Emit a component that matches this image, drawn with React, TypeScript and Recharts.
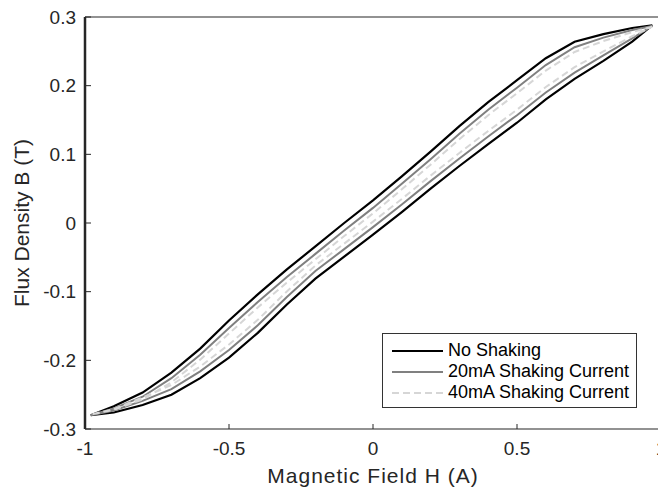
import { LineChart, Line, XAxis, YAxis, Legend, ReferenceLine } from 'recharts';

// field values along the descending branch (upper curve), ascending branch is the reverse
const hDown = [0.97, 0.9, 0.8, 0.7, 0.6, 0.5, 0.4, 0.3, 0.2, 0.1, 0, -0.1, -0.2, -0.3, -0.4, -0.5, -0.6, -0.7, -0.8, -0.9, -0.98];
const hUp = [...hDown].reverse();

const noShakeUpper = [0.288, 0.284, 0.275, 0.264, 0.24, 0.208, 0.176, 0.141, 0.104, 0.068, 0.033, 0.0, -0.034, -0.068, -0.104, -0.142, -0.183, -0.218, -0.247, -0.267, -0.28];
const noShakeLower = [-0.28, -0.276, -0.265, -0.25, -0.226, -0.196, -0.16, -0.119, -0.081, -0.049, -0.017, 0.016, 0.05, 0.083, 0.115, 0.146, 0.18, 0.21, 0.236, 0.264, 0.288];

const shake20Upper = [0.287, 0.281, 0.27, 0.256, 0.23, 0.197, 0.165, 0.13, 0.093, 0.057, 0.022, -0.011, -0.045, -0.079, -0.115, -0.153, -0.192, -0.226, -0.253, -0.27, -0.28];
const shake20Lower = [-0.28, -0.273, -0.259, -0.242, -0.216, -0.185, -0.149, -0.108, -0.07, -0.038, -0.006, 0.027, 0.061, 0.094, 0.126, 0.157, 0.19, 0.219, 0.244, 0.269, 0.287];

const shake40Upper = [0.286, 0.278, 0.265, 0.249, 0.222, 0.189, 0.157, 0.122, 0.085, 0.049, 0.014, -0.019, -0.053, -0.087, -0.123, -0.161, -0.199, -0.232, -0.257, -0.272, -0.279];
const shake40Lower = [-0.279, -0.271, -0.254, -0.236, -0.209, -0.177, -0.141, -0.1, -0.062, -0.03, 0.002, 0.035, 0.069, 0.102, 0.134, 0.165, 0.198, 0.227, 0.25, 0.272, 0.286];

const xTicks = [-1, -0.5, 0, 0.5, 1];
const yTicks = [-0.3, -0.2, -0.1, 0, 0.1, 0.2, 0.3];

const loop = (upper: number[], lower: number[]) => [
  ...hDown.map((h, i) => ({ h, b: upper[i] })),
  ...hUp.map((h, i) => ({ h, b: lower[i] })),
];

const series = [
  { name: 'No Shaking', data: loop(noShakeUpper, noShakeLower), stroke: '#000000', width: 2.2, dash: undefined },
  { name: '20mA Shaking Current', data: loop(shake20Upper, shake20Lower), stroke: '#808080', width: 2, dash: undefined },
  { name: '40mA Shaking Current', data: loop(shake40Upper, shake40Lower), stroke: '#d6d6d6', width: 2, dash: '7 4' },
];

const FONT = '"Liberation Sans", Arial, sans-serif';
const AXIS = '#262626';

function LegendBox() {
  return (
    <div
      style={{
        width: 255,
        height: 75,
        border: '1px solid #333',
        background: '#fff',
        fontFamily: FONT,
        fontSize: 18,
        color: '#000',
        paddingTop: 6,
        boxSizing: 'border-box',
        whiteSpace: 'nowrap',
      }}
    >
      {series.map((s) => (
        <div key={s.name} style={{ display: 'flex', alignItems: 'center', height: 21 }}>
          <svg width={56} height={10} style={{ marginLeft: 9, flexShrink: 0 }}>
            <line x1={0} y1={5} x2={51} y2={5} stroke={s.stroke} strokeWidth={s.width} strokeDasharray={s.dash} />
          </svg>
          <span>{s.name}</span>
        </div>
      ))}
    </div>
  );
}

export default function App() {
  return (
    <div style={{ position: 'fixed', left: 0, top: 0, width: 658, height: 487, overflow: 'hidden', background: '#fff' }}>
      <LineChart width={700} height={487} margin={{ top: 17, right: 39, left: 0, bottom: 0 }}>
        <XAxis
          dataKey="h"
          type="number"
          domain={[-1, 1]}
          ticks={xTicks}
          allowDataOverflow
          height={58}
          tickSize={-5}
          tickMargin={18}
          axisLine={{ stroke: AXIS, strokeWidth: 1.2 }}
          tickLine={{ stroke: AXIS }}
          tick={{ fill: '#262626', fontSize: 19, fontFamily: FONT }}
          label={{ value: 'Magnetic Field H (A)', position: 'insideBottom', offset: 4, fill: '#262626', fontSize: 21, fontFamily: FONT, style: { letterSpacing: '1px' } }}
        />
        <XAxis
          xAxisId="top"
          orientation="top"
          dataKey="h"
          type="number"
          domain={[-1, 1]}
          ticks={xTicks}
          height={0}
          tickSize={-5}
          tick={false}
          axisLine={{ stroke: AXIS, strokeWidth: 1.2 }}
          tickLine={{ stroke: AXIS }}
        />
        <YAxis
          type="number"
          domain={[-0.3, 0.3]}
          ticks={yTicks}
          allowDataOverflow
          width={85}
          tickSize={-6}
          tickMargin={15}
          axisLine={{ stroke: AXIS, strokeWidth: 2.5 }}
          tickLine={{ stroke: AXIS }}
          tick={{ fill: '#262626', fontSize: 19, fontFamily: FONT }}
          label={{ value: 'Flux Density B (T)', angle: -90, position: 'insideLeft', offset: 22, fill: '#262626', fontSize: 21, fontFamily: FONT, style: { textAnchor: 'middle' } }}
        />
        <YAxis
          yAxisId="right"
          orientation="right"
          type="number"
          domain={[-0.3, 0.3]}
          ticks={yTicks}
          width={0}
          tickSize={-6}
          tick={false}
          axisLine={{ stroke: AXIS, strokeWidth: 1.2 }}
          tickLine={{ stroke: AXIS }}
        />
        <ReferenceLine y={0.3} stroke={AXIS} strokeWidth={1.2} ifOverflow="visible" />
        {series.map((s) => (
          <Line
            key={s.name}
            name={s.name}
            data={s.data}
            dataKey="b"
            type="linear"
            stroke={s.stroke}
            strokeWidth={s.width}
            strokeDasharray={s.dash}
            dot={false}
            activeDot={false}
            isAnimationActive={false}
          />
        ))}
        <Legend
          layout="vertical"
          align="center"
          verticalAlign="middle"
          wrapperStyle={{ left: 382, top: 333, width: 255, height: 75 }}
          content={() => <LegendBox />}
        />
      </LineChart>
    </div>
  );
}
